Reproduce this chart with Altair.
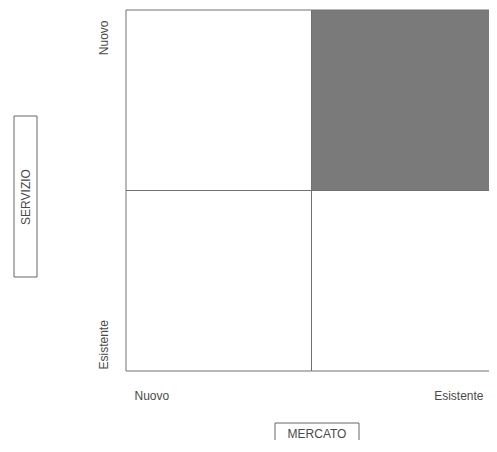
import altair as alt
import pandas as pd

# categories
mercato = ["Nuovo", "Esistente"]          # x axis, left to right
servizio = ["Esistente", "Nuovo"]         # y axis, bottom to top
highlight = ("Esistente", "Nuovo")        # (mercato, servizio) cell that is shaded
x_title = "MERCATO"
y_title = "SERVIZIO"

rows = []
for i, m in enumerate(mercato):
    for j, s in enumerate(servizio):
        rows.append({
            "mercato": m, "servizio": s,
            "x": i, "x2": i + 1, "y": j, "y2": j + 1,
            "stato": "si" if (m, s) == highlight else "no",
        })
cells = pd.DataFrame(rows)

TEXT = "#4a4a4a"
LINE = "#707070"
FONT = "Liberation Sans"

x_expr = f"datum.value == 0 ? '{mercato[0]}' : '{mercato[1]}'"
y_expr = f"datum.value == 0 ? '{servizio[0]}' : '{servizio[1]}'"

grid = alt.Chart(cells).mark_rect(stroke=LINE, strokeWidth=1).encode(
    x=alt.X("x:Q", scale=alt.Scale(domain=[0, 2], nice=False, zero=False),
            axis=alt.Axis(values=[0, 2], labelExpr=x_expr, title=None, ticks=False,
                          tickSize=0, domain=False, grid=False, labelFlush=False,
                          labelPadding=24, labelBaseline="middle",
                          labelFont=FONT, labelFontSize=12, labelColor=TEXT,
                          labelAlign={"condition": {"test": "datum.value == 0", "value": "left"}, "value": "right"},
                          labelOffset={"condition": {"test": "datum.value == 0", "value": 8}, "value": -14})),
    x2="x2:Q",
    y=alt.Y("y:Q", scale=alt.Scale(domain=[0, 2], nice=False, zero=False),
            axis=alt.Axis(values=[0, 2], labelExpr=y_expr, title=None, ticks=False,
                          tickSize=0, domain=False, grid=False, labelFlush=False,
                          labelAngle=270, labelPadding=23, labelBaseline="middle",
                          labelFont=FONT, labelFontSize=12, labelColor=TEXT,
                          labelAlign={"condition": {"test": "datum.value == 0", "value": "left"}, "value": "right"},
                          labelOffset={"condition": {"test": "datum.value == 0", "value": -2}, "value": 10})),
    y2="y2:Q",
    color=alt.Color("stato:N", scale=alt.Scale(domain=["no", "si"], range=["#ffffff", "#7a7a7a"]), legend=None),
)

one = pd.DataFrame({"k": [0]})

y_box = alt.Chart(one).mark_rect(fill="#ffffff", fillOpacity=0, stroke="#666666", strokeWidth=1).encode(
    x=alt.value(-112), x2=alt.value(-89), y=alt.value(106), y2=alt.value(267))
y_text = alt.Chart(one).mark_text(angle=270, font=FONT, fontSize=12, color=TEXT,
                                  align="center", baseline="middle").encode(
    x=alt.value(-100), y=alt.value(187), text=alt.value(y_title))

x_box = alt.Chart(one).mark_rect(fill="#ffffff", fillOpacity=0, stroke="#666666", strokeWidth=1).encode(
    x=alt.value(149), x2=alt.value(233), y=alt.value(413), y2=alt.value(440))
x_text = alt.Chart(one).mark_text(font=FONT, fontSize=12, color=TEXT,
                                  align="center", baseline="middle").encode(
    x=alt.value(191), y=alt.value(424), text=alt.value(x_title))

chart = alt.layer(grid, y_box, y_text, x_box, x_text).properties(
    width=371, height=361,
    autosize=alt.AutoSizeParams(type="none"),
    padding={"left": 118, "top": 2, "right": -8, "bottom": 69},
    background="#ffffff",
).configure_view(stroke=None)

chart.save("out.html", embed_options={"renderer": "svg", "actions": False})
